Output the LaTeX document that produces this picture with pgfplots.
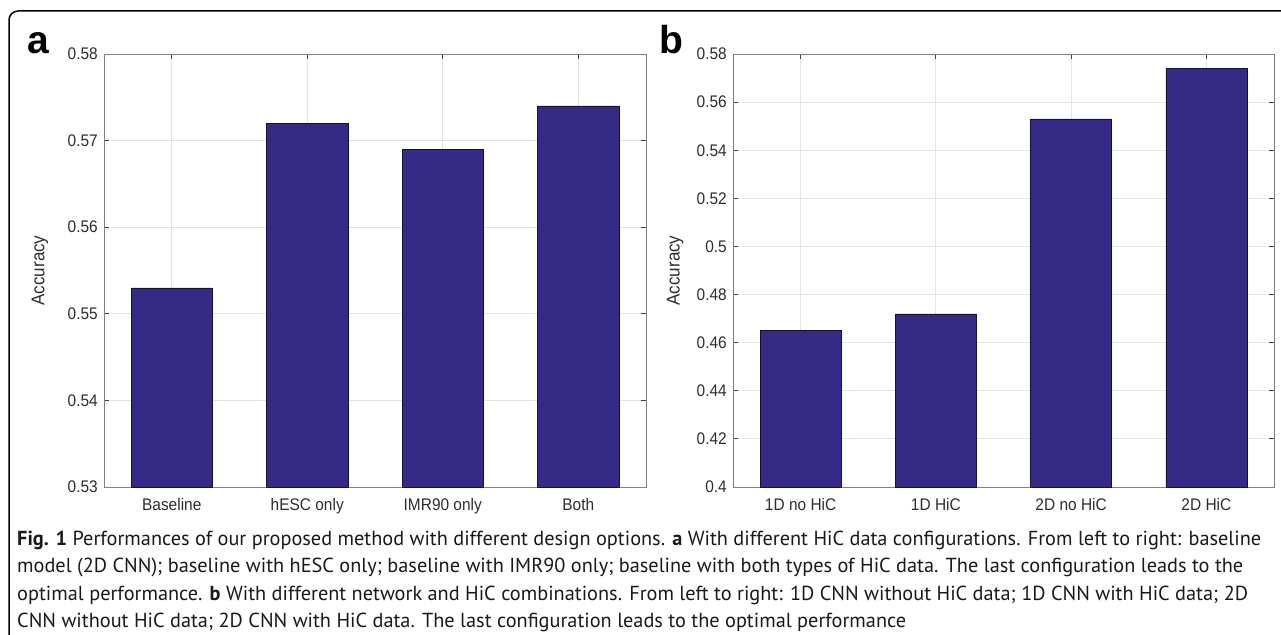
\documentclass[border=0pt]{standalone}
\usepackage{fontspec}
\setmainfont{Liberation Sans}
\newfontfamily\capfont{PT Sans}
\newfontfamily\chartfont[FakeStretch=0.92]{Liberation Sans}
\usepackage{pgfplots}
\pgfplotsset{compat=1.18}

\definecolor{barblue}{RGB}{53,42,134}
\definecolor{axgray}{RGB}{128,128,128}
\definecolor{gridgray}{RGB}{228,228,228}
\definecolor{txtgray}{RGB}{45,45,45}

\pgfplotsset{hicbar/.style={
    scale only axis, height=433pt, anchor=south west,
    ybar, bar width=0.6, bar shift=0pt,
    xmin=0.5, xmax=4.5, xtick={1,2,3,4},
    tick align=inside, major tick length=5pt,
    grid=major, major grid style={gridgray, line width=0.8pt},
    axis line style={axgray, line width=0.9pt},
    tick style={black!75, line width=0.9pt},
    ticklabel style={font=\chartfont\fontsize{16.8}{18}\selectfont, text=txtgray},
    /pgf/number format/assume math mode=true,
    yticklabel style={/pgf/number format/fixed, /pgf/number format/precision=2,
                      anchor=east, inner sep=0pt, xshift=-6pt},
    xticklabel style={anchor=north, inner sep=0pt, yshift=-11pt},
    ylabel={Accuracy},
    ylabel style={font=\chartfont\fontsize{18.5}{20}\selectfont, text=txtgray, anchor=center},
  }}

\begin{document}
\begin{tikzpicture}
\path[use as bounding box] (0,0) rectangle (1281pt,-634pt);
\draw[line width=1.5pt, rounded corners=9pt] (9pt,-640pt) -- (9pt,-11pt) -- (1290pt,-11pt);

% panel a
\begin{axis}[hicbar, at={(104pt,-487pt)}, width=542pt,
    ymin=0.53, ymax=0.58, ytick={0.53,0.54,0.55,0.56,0.57,0.58},
    xticklabels={Baseline, hESC only, IMR90 only, Both},
    ylabel style={at={(axis description cs:-0.118,0.5)}}]
  \addplot[fill=barblue, draw=black!60!barblue, line width=0.6pt]
    coordinates {(1,0.553) (2,0.572) (3,0.569) (4,0.574)};
\end{axis}

% panel b
\begin{axis}[hicbar, at={(733pt,-487pt)}, width=541pt,
    ymin=0.4, ymax=0.58, ytick={0.4,0.42,0.44,0.46,0.48,0.5,0.52,0.54,0.56,0.58},
    xticklabels={1D no HiC, 1D HiC, 2D no HiC, 2D HiC},
    ylabel style={at={(axis description cs:-0.107,0.5)}}]
  \addplot[fill=barblue, draw=black!60!barblue, line width=0.6pt]
    coordinates {(1,0.465) (2,0.472) (3,0.553) (4,0.574)};
\end{axis}

\node[anchor=base west, inner sep=0pt, font=\bfseries\fontsize{39}{40}\selectfont] at (27pt,-53pt) {a};
\node[anchor=base west, inner sep=0pt, font=\bfseries\fontsize{39}{40}\selectfont] at (659pt,-53pt) {b};

\begin{scope}[every node/.style={anchor=base west, inner sep=0pt, text=black!90, font=\capfont\fontsize{20.3}{28}\selectfont}]
\node at (17pt,-545pt) {\textbf{Fig. 1} Performances of our proposed method with different design options. \textbf{a} With different HiC data configurations. From left to right: baseline};
\node at (17pt,-572.5pt) {model (2D CNN); baseline with hESC only; baseline with IMR90 only; baseline with both types of HiC data. The last configuration leads to the};
\node at (17pt,-600pt) {optimal performance. \textbf{b} With different network and HiC combinations. From left to right: 1D CNN without HiC data; 1D CNN with HiC data; 2D};
\node at (17pt,-627pt) {CNN without HiC data; 2D CNN with HiC data. The last configuration leads to the optimal performance};
\end{scope}
\end{tikzpicture}
\end{document}
